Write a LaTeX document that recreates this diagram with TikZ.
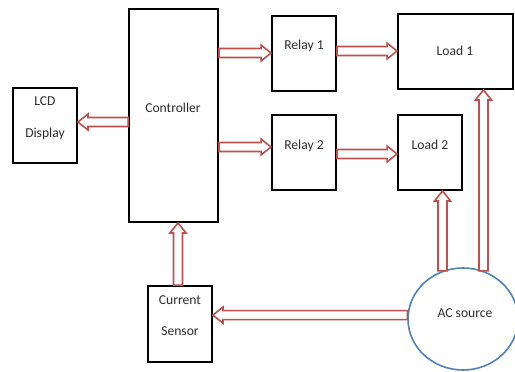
\documentclass[tikz,border=0pt]{standalone}
\usepackage{fontspec}
\setmainfont{Carlito}
\usetikzlibrary{calc,shapes.geometric}
\definecolor{arrred}{RGB}{192,80,77}
\definecolor{acblue}{RGB}{79,129,189}
\newcommand\blockarrow[2]{%
  \draw[arr] ($(#1)!4.5pt!90:(#2)$) -- ($(#2)!10pt!(#1)!4.5pt!90:(#2)$)
    -- ($(#2)!10pt!(#1)!8pt!90:(#2)$) -- (#2)
    -- ($(#2)!10pt!(#1)!8pt!-90:(#2)$) -- ($(#2)!10pt!(#1)!4.5pt!-90:(#2)$)
    -- ($(#1)!4.5pt!-90:(#2)$) -- cycle;}
\begin{document}
\begin{tikzpicture}[x=1pt,y=-1pt,
  box/.style={draw=black, line width=1.9pt, inner sep=0pt, fill=white},
  lbl/.style={font=\fontsize{13.6}{16}\selectfont, text=black!82, inner sep=0pt, text height=1.5ex, text depth=.25ex},
  arr/.style={draw=arrred, line width=1.6pt, line join=miter, fill=white}]
\useasboundingbox (0,0) rectangle (515,372);
\clip (0,0) rectangle (515,372);
\fill[white] (0,0) rectangle (515,372);
% boxes
\node[box, minimum width=64pt, minimum height=75pt] (lcd) at (45,125.5) {};
\node[box, minimum width=89pt, minimum height=213pt] (ctrl) at (173.5,115.5) {};
\node[box, minimum width=64pt, minimum height=75pt] (rel1) at (304,53.5) {};
\node[box, minimum width=64pt, minimum height=75pt] (rel2) at (304,152.5) {};
\node[box, minimum width=115pt, minimum height=75pt] (load1) at (455.5,51.5) {};
\node[box, minimum width=64pt, minimum height=75pt] (load2) at (430,152.5) {};
\node[box, minimum width=64pt, minimum height=76pt] (sensor) at (180,324) {};
\node[ellipse, draw=acblue, line width=1.6pt, minimum width=110pt, minimum height=102pt, inner sep=0pt] (ac) at (463,319) {};
% labels
\node[lbl] (tlcd) at (45,103) {LCD};
\node[lbl] (tdisp) at (45,135) {Display};
\node[lbl] (tctrl) at (173,110) {Controller};
\node[lbl] (trel1) at (304,47) {Relay 1};
\node[lbl] (trel2) at (304,147) {Relay 2};
\node[lbl] (tload1) at (455,53) {Load 1};
\node[lbl] (tload2) at (430,147) {Load 2};
\node[lbl] (tcur) at (180,302) {Current};
\node[lbl] (tsen) at (180,333) {Sensor};
\node[lbl] (tac) at (465,315) {AC source};
% connector end points
\coordinate (c1) at ($(ctrl.west)+(0,6.5)$);
\coordinate (l1) at (lcd.east |- c1);
\coordinate (c2) at (ctrl.east |- 0,53);
\coordinate (r1) at (rel1.west |- c2);
\coordinate (c3) at (ctrl.east |- 0,147);
\coordinate (r2) at (rel2.west |- c3);
\coordinate (r1e) at (rel1.east |- 0,51);
\coordinate (ld1) at (load1.west |- r1e);
\coordinate (r2e) at (rel2.east |- 0,154);
\coordinate (ld2) at (load2.west |- r2e);
\coordinate (a1) at (ac.67);
\coordinate (ld1s) at (a1 |- load1.south);
\coordinate (a2) at (ac.113);
\coordinate (ld2s) at (a2 |- load2.south);
\coordinate (a3) at (ac.176);
\coordinate (se) at (sensor.east |- a3);
\coordinate (sn) at ($(sensor.north)+(-2,0)$);
\coordinate (cs) at (sn |- ctrl.south);
% arrows
\blockarrow{c1}{l1}
\blockarrow{c2}{r1}
\blockarrow{c3}{r2}
\blockarrow{r1e}{ld1}
\blockarrow{r2e}{ld2}
\blockarrow{a1}{ld1s}
\blockarrow{a2}{ld2s}
\blockarrow{a3}{se}
\blockarrow{sn}{cs}
\end{tikzpicture}
\end{document}
